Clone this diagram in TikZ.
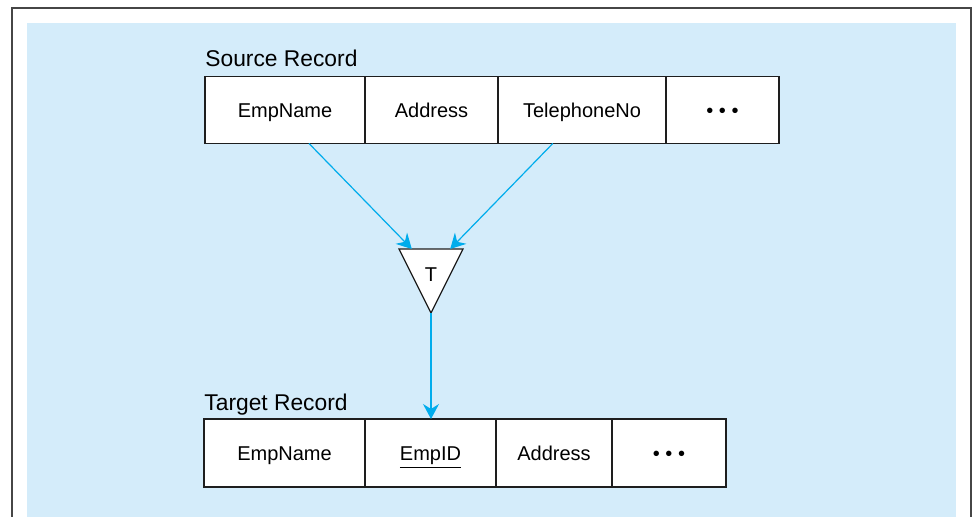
\documentclass[tikz,border=0pt]{standalone}
\usepackage{fontspec}
\setmainfont{Liberation Sans}
\usetikzlibrary{positioning,calc,arrows.meta}
\definecolor{panelfill}{RGB}{212,236,250}
\definecolor{flowline}{RGB}{0,172,236}
\definecolor{frameline}{RGB}{70,70,70}
\definecolor{cellline}{RGB}{30,30,30}

\begin{document}
\begin{tikzpicture}[
  font=\fontsize{10}{12}\selectfont,
  cell/.style={draw=cellline, line width=0.6pt, fill=white, minimum height=33.5pt, inner sep=0pt, outer sep=0pt, anchor=west, text height=7.2pt, text depth=0pt},
  lab/.style={font=\fontsize{11.4}{13}\selectfont, inner sep=0pt},
  tri/.style={draw=cellline, line width=0.6pt, fill=white, line join=miter},
  flow/.style={-{Stealth[length=7.5pt, width=8pt, inset=2.5pt]}, flowline, line width=0.6pt}]
\useasboundingbox (0,0) rectangle (486pt,258.5pt);

% ---- frame and panel ----
\fill[panelfill] (13.5pt,0) rectangle (478pt,247pt);
\draw[frameline, line width=0.7pt] (6pt,0) -- (6pt,254.5pt) -- (485.5pt,254.5pt) -- (485.5pt,0);

% ---- source record ----
\node[cell, minimum width=80pt] (sname) at (102.5pt,203.5pt) {EmpName};
\node[cell, minimum width=66.5pt, right=0pt of sname] (saddr) {Address};
\node[cell, minimum width=84pt, right=0pt of saddr] (stel) {TelephoneNo};
\node[cell, minimum width=56.5pt, right=0pt of stel] (sdots) {• • •};
\node[lab, above=5pt of sname.north west, anchor=base west] (slab) {Source Record};

% ---- transformation ----
\coordinate (tl) at (199.5pt,134pt);
\coordinate (tr) at (231.5pt,134pt);
\coordinate (tb) at (215.5pt,102pt);
\draw[tri] (tl) -- (tr) -- (tb) -- cycle;
\node (T) at (215.5pt,121pt) {T};
\coordinate (in1) at ($(tl)!0.2!(tr)$);
\coordinate (in2) at ($(tl)!0.8!(tr)$);

% ---- target record ----
\node[cell, minimum width=80.5pt, minimum height=34pt] (tname) at (102pt,32pt) {EmpName};
\node[cell, minimum width=65.5pt, minimum height=34pt, right=0pt of tname] (tid) {\underline{EmpID}};
\node[cell, minimum width=58pt, minimum height=34pt, right=0pt of tid] (taddr) {Address};
\node[cell, minimum width=57pt, minimum height=34pt, right=0pt of taddr] (tdots) {• • •};
\node[lab, above=4pt of tname.north west, anchor=base west] (tlab) {Target Record};

% ---- mappings ----
\draw[flow] ($(sname.south)+(12pt,0)$) -- (in1);
\draw[flow] ($(stel.south)+(-14.6pt,0)$) -- (in2);
\draw[flow] (tb) -- (tb |- tid.north);
\end{tikzpicture}
\end{document}
